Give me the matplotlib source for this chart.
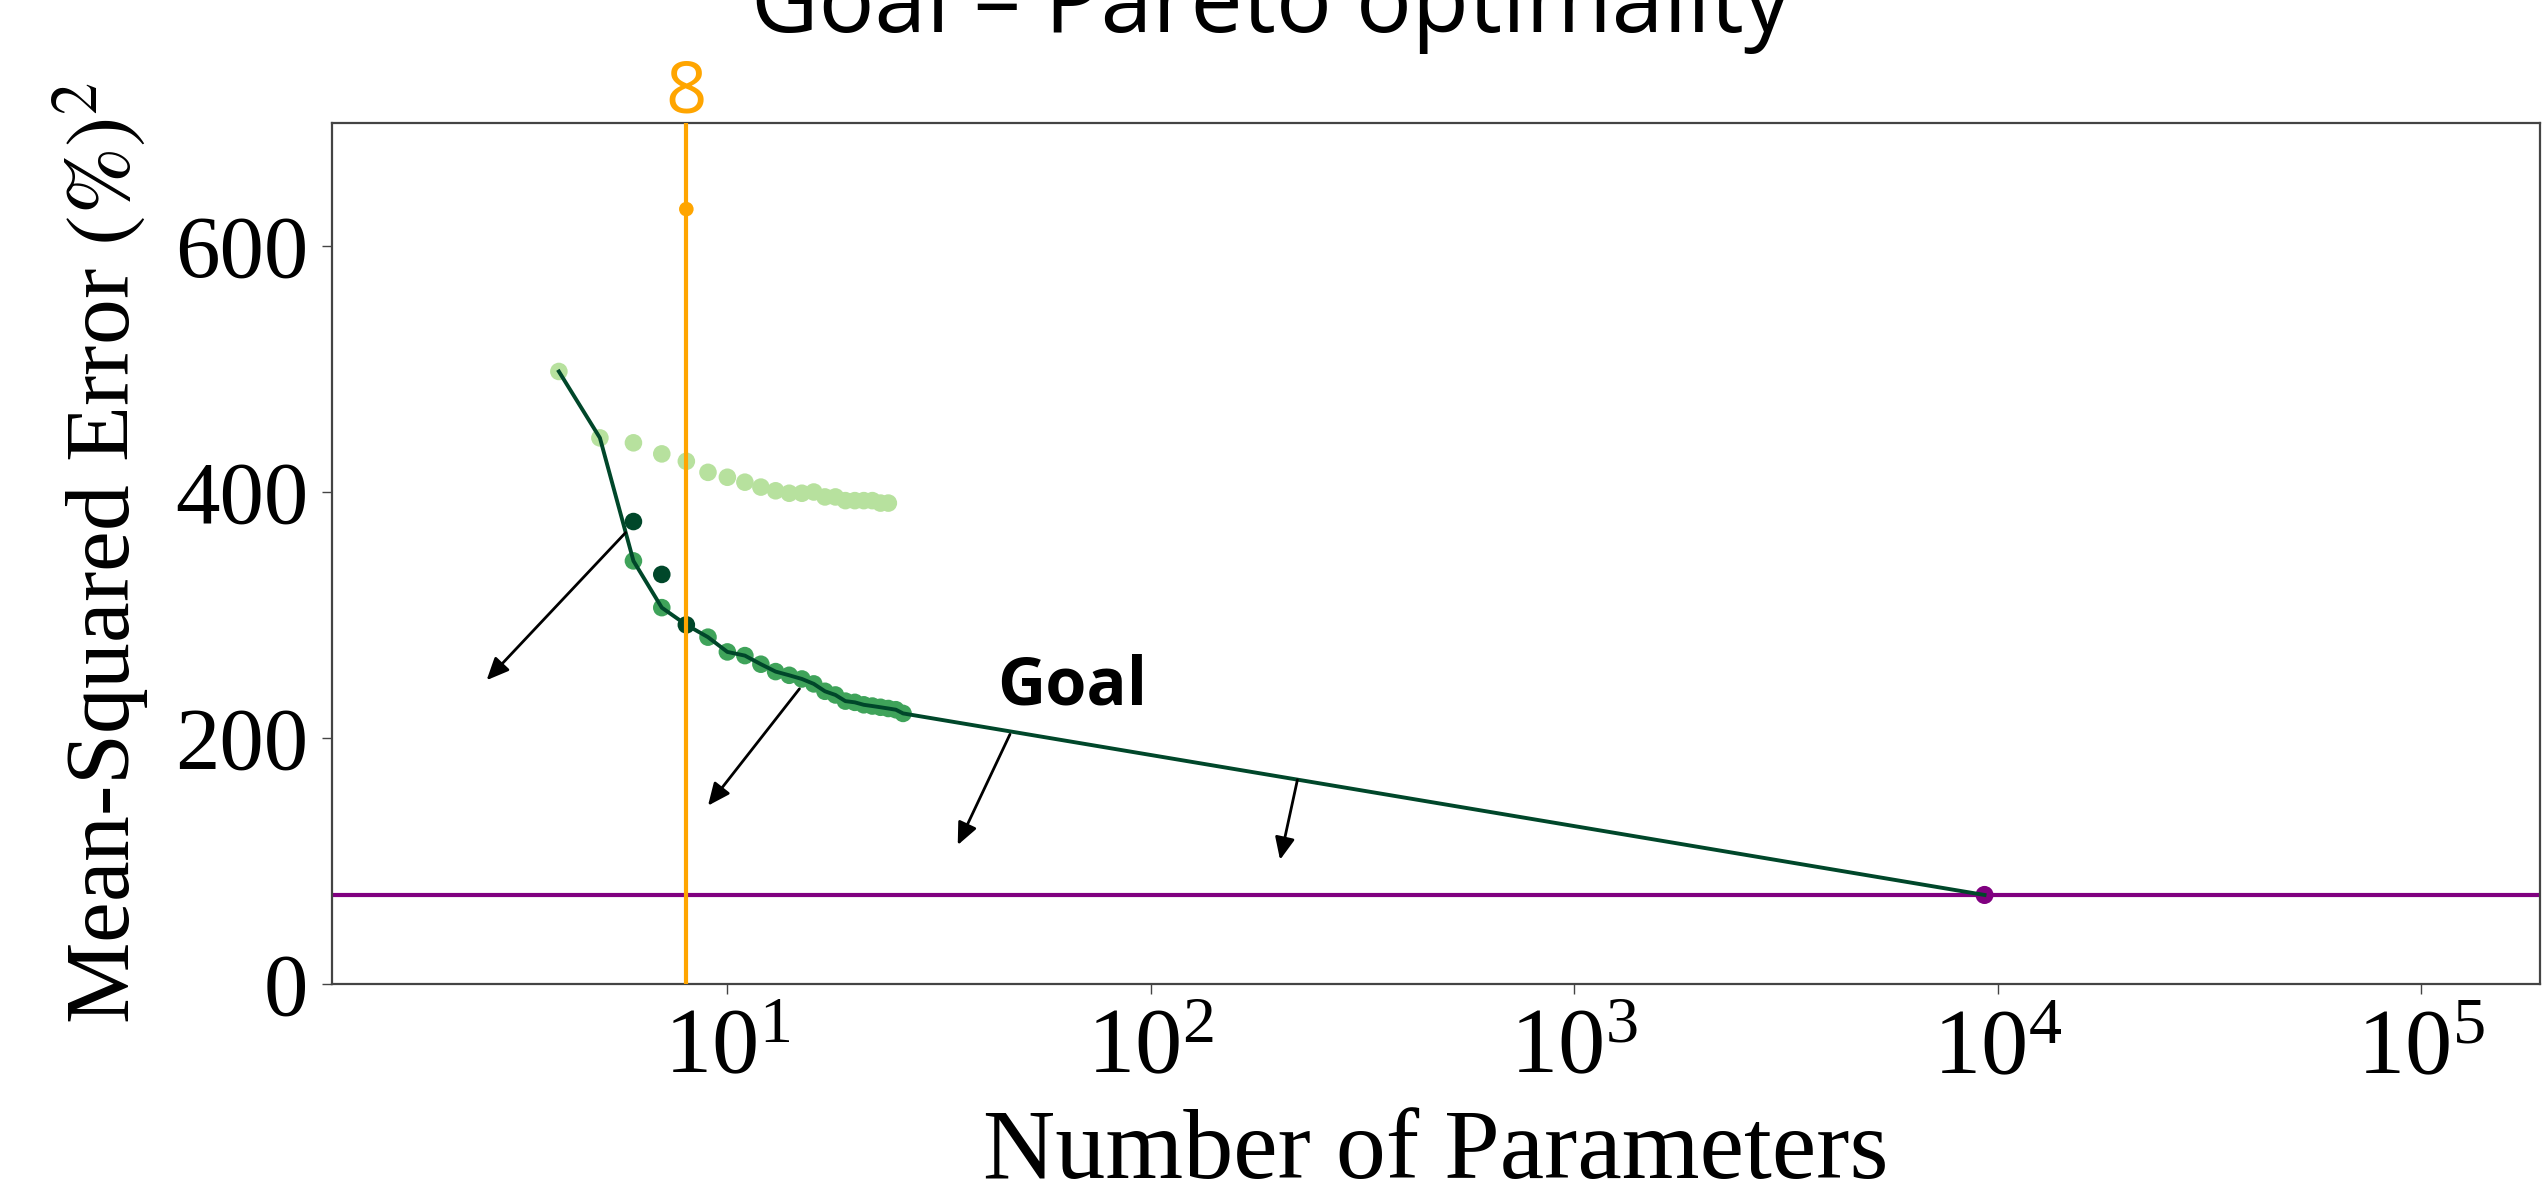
import numpy as np
import matplotlib.pyplot as plt
from matplotlib.ticker import NullLocator

# Model size vs. error for each family of fitted models
small_params = [4, 5, 6, 7, 8, 9, 10, 11, 12, 13, 14, 15, 16, 17, 18, 19, 20, 21, 22, 23, 24]
small_mse = [498, 444, 440, 431, 425, 416, 412, 408, 404, 401, 399, 399, 400, 396, 396, 393, 393, 393, 393, 391, 391]

mid_params = [6, 7, 9, 10, 11, 12, 13, 14, 15, 16, 17, 18, 19, 20, 21, 22, 23, 24, 25, 26]
mid_mse = [344, 306, 282, 270, 267, 260, 254, 251, 248, 244, 238, 235, 230, 229, 227, 226, 225, 224, 223, 220]

deep_params = [6, 7, 8]
deep_mse = [376, 333, 292]

big_params = [9315]
big_mse = [72.4]

chosen_params = 8
chosen_mse = 630

# annotation arrows pointing towards the goal region (tail, head)
arrow_tails = [(5.75, 367), (14.8, 240), (46.5, 203), (222, 166)]
arrow_heads = [(2.7, 247), (9.0, 145), (35, 113), (202, 101)]

plt.rcParams['font.family'] = 'Liberation Serif'
plt.rcParams['mathtext.fontset'] = 'stix'

LIGHT = '#b7e19e'
MID = '#3fa35a'
DARK = '#00472a'

fig = plt.figure(figsize=(25.42, 11.99), dpi=100)
ax = fig.add_axes([0.1305, 0.1793, 0.8687, 0.7181])

# pareto front: lowest error reached so far as the parameter count grows
all_x = np.concatenate([small_params, mid_params, deep_params, big_params]).astype(float)
all_y = np.concatenate([small_mse, mid_mse, deep_mse, big_mse]).astype(float)
order = np.lexsort((all_y, all_x))
front_x, front_y = [], []
best = np.inf
for i in order:
    if all_y[i] < best:
        best = all_y[i]
        front_x.append(all_x[i])
        front_y.append(all_y[i])

ax.scatter(small_params, small_mse, s=160, color=LIGHT, edgecolors='none', zorder=2)
ax.scatter(mid_params, mid_mse, s=160, color=MID, edgecolors='none', zorder=2)
ax.scatter(deep_params, deep_mse, s=160, color=DARK, edgecolors='none', zorder=2)
ax.axhline(big_mse[0], color='purple', lw=3, zorder=2)
ax.scatter(big_params, big_mse, s=170, color='purple', edgecolors='none', zorder=3)
ax.plot(front_x, front_y, color=DARK, lw=2.8, zorder=4)

ax.axvline(chosen_params, color='orange', lw=3, zorder=5)
ax.scatter([chosen_params], [chosen_mse], s=110, color='orange', edgecolors='none', zorder=5)
ax.text(chosen_params, 1.012, '8', transform=ax.get_xaxis_transform(), ha='center',
        va='baseline', color='orange', fontsize=52, family='Open Sans')

for (x0, y0), (x1, y1) in zip(arrow_tails, arrow_heads):
    ax.annotate('', xy=(x1, y1), xytext=(x0, y0),
                arrowprops=dict(arrowstyle='-|>,head_length=0.45,head_width=0.2',
                                mutation_scale=30, color='black', lw=2,
                                shrinkA=0, shrinkB=0), zorder=6)

ax.text(43.4, 227, 'Goal', ha='left', va='baseline', fontsize=48,
        fontweight='bold', family='Open Sans')

ax.set_xscale('log')
ax.set_xlim(1.163, 1.91e5)
ax.set_ylim(0, 700)
ax.set_yticks([0, 200, 400, 600])
ax.xaxis.set_minor_locator(NullLocator())

for side in ax.spines.values():
    side.set_color('#444444')
    side.set_linewidth(1.6)
ax.tick_params(axis='both', length=7, width=1, color='#444444', pad=10)
ax.tick_params(axis='y', labelsize=64)
ax.tick_params(axis='x', labelsize=68)

ax.set_xlabel('Number of Parameters', fontsize=72, labelpad=12)
ax.set_ylabel(r'Mean-Squared Error $(\%)^2$', fontsize=66, labelpad=16)

fig.text(0.5, 1 - 32 / 1199, 'Goal \u2013 Pareto optimality', ha='center', va='baseline',
         fontsize=67, family='Open Sans')

fig.savefig('out.png', dpi=100)
